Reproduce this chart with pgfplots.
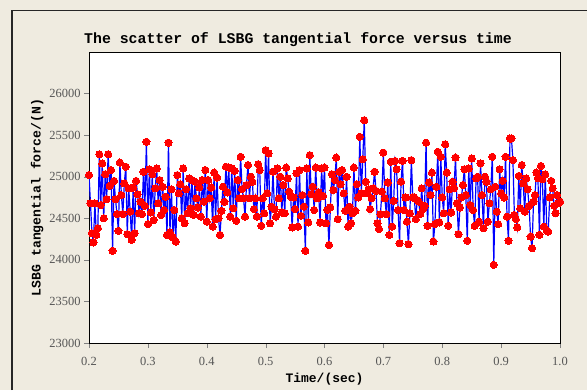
\documentclass[border=0pt]{standalone}
\usepackage{fontspec}
\setmainfont{Liberation Serif}
\setmonofont{Liberation Mono}
\usepackage{pgfplots}
\pgfplotsset{compat=1.18}
\definecolor{figbg}{RGB}{239,235,224}
\definecolor{ticklab}{RGB}{85,85,85}
\begin{document}
\begin{tikzpicture}[x=1bp,y=1bp]
\useasboundingbox (0,0) rectangle (587,390);
\fill[figbg] (0,0) rectangle (587,390);
\draw[black!85, line width=1.2bp] (12,0) -- (12,379.5) -- (587,379.5);
\begin{axis}[
  at={(89bp,47bp)}, anchor=south west,
  scale only axis, width=471bp, height=291bp,
  xmin=0.2, xmax=1.0, ymin=23000, ymax=26500,
  xtick={0.2,0.3,0.4,0.5,0.6,0.7,0.8,0.9,1.0},
  ytick={23000,23500,24000,24500,25000,25500,26000},
  scaled y ticks=false,
  tick align=outside, xtick pos=left, ytick pos=left,
  major tick length=5bp,
  axis line style={black, line width=0.9bp},
  axis background/.style={fill=white},
  /pgf/number format/assume math mode=true,
  /pgf/number format/1000 sep={},
  xticklabel style={/pgf/number format/fixed, /pgf/number format/precision=1, /pgf/number format/fixed zerofill, yshift=-6bp},
  tick label style={font=\fontsize{12.5}{13}\selectfont, text=ticklab},
  every axis title shift=0pt,
  title={The scatter of LSBG tangential force versus time},
  title style={at={(axis description cs:0.4437,1.041)}, anchor=center, font=\ttfamily\bfseries\fontsize{14.9}{16}\selectfont},
  xlabel={Time/(sec)},
  xlabel style={at={(axis description cs:0.5,-0.1237)}, anchor=center, font=\ttfamily\bfseries\fontsize{13}{14}\selectfont},
  ylabel={LSBG tangential force/(N)},
  ylabel style={at={(axis description cs:-0.110,0.5)}, anchor=center, font=\ttfamily\bfseries\fontsize{13.2}{14}\selectfont},
]
\addplot[blue, line width=1.2bp, mark=*, mark size=3.6bp, mark options={fill=red, draw=red, line width=0pt}] table {
0.2000 25020
0.2025 24680
0.2050 24320
0.2075 24210
0.2100 24680
0.2125 24300
0.2150 24380
0.2175 25270
0.2200 24660
0.2225 25160
0.2250 24500
0.2275 25030
0.2300 24730
0.2325 25270
0.2350 24890
0.2375 25080
0.2400 24110
0.2425 24950
0.2450 24730
0.2475 24550
0.2500 24350
0.2525 25170
0.2550 24780
0.2575 24550
0.2600 24920
0.2625 25120
0.2650 24310
0.2675 24860
0.2700 24580
0.2725 24240
0.2750 24870
0.2775 24320
0.2800 24950
0.2825 24790
0.2850 24560
0.2875 24700
0.2900 24550
0.2925 25060
0.2950 24650
0.2975 25420
0.3000 24430
0.3025 25090
0.3050 24570
0.3075 25030
0.3100 24480
0.3125 24860
0.3150 25100
0.3175 24680
0.3200 24960
0.3225 24540
0.3250 24880
0.3275 24600
0.3300 24760
0.3325 24300
0.3350 25410
0.3375 24330
0.3400 24850
0.3425 24270
0.3450 24600
0.3475 24220
0.3500 25020
0.3525 24800
0.3550 24910
0.3575 24500
0.3600 25100
0.3625 24440
0.3650 24850
0.3675 24560
0.3700 24980
0.3725 24620
0.3750 24960
0.3775 24540
0.3800 24940
0.3825 24740
0.3850 24630
0.3875 24870
0.3900 24520
0.3925 24960
0.3950 24700
0.3975 25080
0.4000 24460
0.4025 24960
0.4050 24740
0.4075 24870
0.4100 24400
0.4125 25050
0.4150 24490
0.4175 24990
0.4200 24500
0.4225 24300
0.4250 24590
0.4275 24880
0.4300 24700
0.4325 25120
0.4350 24810
0.4375 25110
0.4400 24520
0.4425 25100
0.4450 24620
0.4475 25070
0.4500 24470
0.4525 24960
0.4550 24740
0.4575 25240
0.4600 24850
0.4625 24740
0.4650 24520
0.4675 24900
0.4700 25140
0.4725 24740
0.4750 25000
0.4775 24940
0.4800 24610
0.4825 24740
0.4850 24520
0.4875 25150
0.4900 25080
0.4925 24410
0.4950 24740
0.4975 24560
0.5000 25320
0.5025 24800
0.5050 25280
0.5075 24440
0.5100 24640
0.5125 25060
0.5150 24610
0.5175 24520
0.5200 25100
0.5225 24740
0.5250 25000
0.5275 24570
0.5300 24900
0.5325 24560
0.5350 25110
0.5375 24980
0.5400 24820
0.5425 24760
0.5450 24390
0.5475 24750
0.5500 24610
0.5525 25040
0.5550 24400
0.5575 25080
0.5600 24530
0.5625 24780
0.5650 24640
0.5675 24110
0.5700 25100
0.5725 24450
0.5750 25260
0.5775 24790
0.5800 24880
0.5825 24600
0.5850 25110
0.5875 24740
0.5900 24810
0.5925 24450
0.5950 25100
0.5975 24770
0.6000 25110
0.6025 24440
0.6050 24600
0.6075 24180
0.6100 24630
0.6125 25030
0.6150 24840
0.6175 24960
0.6200 25230
0.6225 24490
0.6250 25060
0.6275 24910
0.6300 25080
0.6325 24800
0.6350 24590
0.6375 25000
0.6400 24400
0.6425 24640
0.6450 24440
0.6475 24560
0.6500 25110
0.6525 24590
0.6550 24910
0.6575 24750
0.6600 25480
0.6625 24800
0.6650 25210
0.6675 25680
0.6700 24940
0.6725 24800
0.6750 24850
0.6775 24610
0.6800 24740
0.6825 24860
0.6850 25060
0.6875 24830
0.6900 24440
0.6925 24370
0.6950 24550
0.6975 24820
0.7000 25290
0.7025 24740
0.7050 24550
0.7075 24930
0.7100 24300
0.7125 25180
0.7150 24400
0.7175 24710
0.7200 25190
0.7225 25090
0.7250 24600
0.7275 24200
0.7300 24940
0.7325 25190
0.7350 24600
0.7375 24750
0.7400 24460
0.7425 24190
0.7450 24560
0.7475 25200
0.7500 24750
0.7525 24750
0.7550 24490
0.7575 24720
0.7600 24700
0.7625 24550
0.7650 24860
0.7675 24610
0.7700 24650
0.7725 25410
0.7750 24410
0.7775 24930
0.7800 24780
0.7825 25050
0.7850 24220
0.7875 24430
0.7900 24880
0.7925 25300
0.7950 24450
0.7975 25240
0.8000 24750
0.8025 24560
0.8050 25390
0.8075 25050
0.8100 24410
0.8125 24850
0.8150 24570
0.8175 24940
0.8200 24860
0.8225 25230
0.8250 24680
0.8275 24310
0.8300 24630
0.8325 24750
0.8350 24900
0.8375 25090
0.8400 24780
0.8425 24230
0.8450 25100
0.8475 24660
0.8500 25220
0.8525 24600
0.8550 24410
0.8575 24980
0.8600 25000
0.8625 24460
0.8650 25160
0.8675 24780
0.8700 24380
0.8725 25000
0.8750 24940
0.8775 24460
0.8800 24680
0.8825 24850
0.8850 25240
0.8875 23940
0.8900 24880
0.8925 24580
0.8950 24430
0.8975 25090
0.9000 24800
0.9025 24950
0.9050 24750
0.9075 25240
0.9100 24520
0.9125 24230
0.9150 25460
0.9175 25460
0.9200 25200
0.9225 24540
0.9250 24490
0.9275 24390
0.9300 25010
0.9325 24620
0.9350 25140
0.9375 24920
0.9400 24580
0.9425 24980
0.9450 24850
0.9475 24650
0.9500 24280
0.9525 24140
0.9550 24700
0.9575 24780
0.9600 25050
0.9625 24980
0.9650 24300
0.9675 25130
0.9700 24970
0.9725 24400
0.9750 25030
0.9775 24350
0.9800 24340
0.9825 24750
0.9850 24950
0.9875 24860
0.9900 24650
0.9925 24560
0.9950 24780
0.9975 24680
1.0000 24700
};
\end{axis}
\end{tikzpicture}
\end{document}
